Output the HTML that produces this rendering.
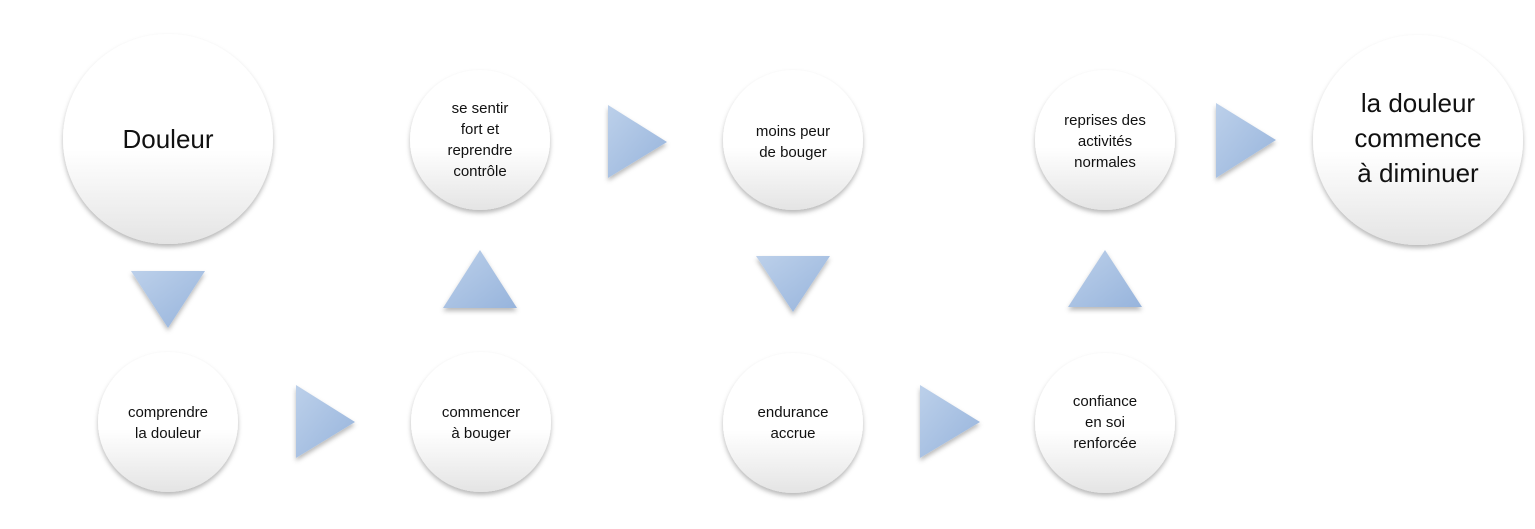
<!DOCTYPE html>
<html><head><meta charset="utf-8"><style>
html,body{margin:0;padding:0;background:#fff;width:1535px;height:529px;overflow:hidden}
svg text{font-family:"Liberation Sans",sans-serif;fill:#111;text-anchor:middle}
</style></head><body>
<svg width="1535" height="529" viewBox="0 0 1535 529" xmlns="http://www.w3.org/2000/svg">
<defs>
<linearGradient id="cg" x1="0" y1="0" x2="0" y2="1">
<stop offset="0" stop-color="#ffffff"/><stop offset="0.55" stop-color="#ffffff"/><stop offset="1" stop-color="#e4e4e4"/>
</linearGradient>
<linearGradient id="tg" x1="0" y1="0" x2="1" y2="1">
<stop offset="0" stop-color="#bcd0ea"/><stop offset="1" stop-color="#97b4dc"/>
</linearGradient>
<filter id="sh" x="-20%" y="-20%" width="140%" height="150%">
<feDropShadow dx="0" dy="3" stdDeviation="2.5" flood-color="#000" flood-opacity="0.28"/>
</filter>
</defs>
<g filter="url(#sh)" fill="url(#cg)">
<circle cx="168" cy="139" r="105"/>
<circle cx="480" cy="140" r="70"/>
<circle cx="793" cy="140" r="70"/>
<circle cx="1105" cy="140" r="70"/>
<circle cx="1418" cy="140" r="105"/>
<circle cx="168" cy="422" r="70"/>
<circle cx="481" cy="422" r="70"/>
<circle cx="793" cy="423" r="70"/>
<circle cx="1105" cy="423" r="70"/>
</g>
<g fill="url(#tg)" filter="url(#sh)">
<polygon points="131,271 205,271 168,328"/>
<polygon points="443,308 517,308 480,250"/>
<polygon points="756,256 830,256 793,312"/>
<polygon points="1068,307 1142,307 1105,250"/>
<polygon points="296,385 296,458 355,422"/>
<polygon points="608,105 608,178 667,142"/>
<polygon points="920,385 920,458 980,422"/>
<polygon points="1216,103 1216,178 1276,140"/>
</g>
<text x="168" y="148" font-size="26">Douleur</text>
<text font-size="15"><tspan x="480" y="113">se sentir</tspan><tspan x="480" y="134">fort et</tspan><tspan x="480" y="155">reprendre</tspan><tspan x="480" y="176">contrôle</tspan></text>
<text font-size="15"><tspan x="793" y="136">moins peur</tspan><tspan x="793" y="157">de bouger</tspan></text>
<text font-size="15"><tspan x="1105" y="125">reprises des</tspan><tspan x="1105" y="146">activités</tspan><tspan x="1105" y="167">normales</tspan></text>
<text font-size="26"><tspan x="1418" y="112">la douleur</tspan><tspan x="1418" y="147">commence</tspan><tspan x="1418" y="182">à diminuer</tspan></text>
<text font-size="15"><tspan x="168" y="417">comprendre</tspan><tspan x="168" y="438">la douleur</tspan></text>
<text font-size="15"><tspan x="481" y="417">commencer</tspan><tspan x="481" y="438">à bouger</tspan></text>
<text font-size="15"><tspan x="793" y="417">endurance</tspan><tspan x="793" y="438">accrue</tspan></text>
<text font-size="15"><tspan x="1105" y="406">confiance</tspan><tspan x="1105" y="427">en soi</tspan><tspan x="1105" y="448">renforcée</tspan></text>
</svg>
</body></html>
